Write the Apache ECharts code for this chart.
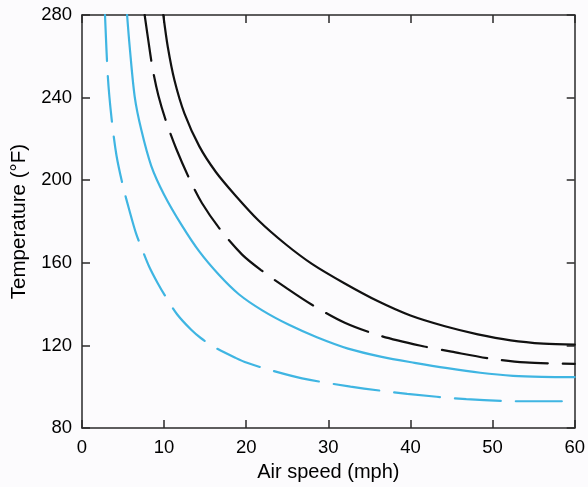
<!DOCTYPE html>
<html lang="en">
    <head>
        <meta charset="utf-8">
        <title>Temperature vs air speed</title>
        <script src="https://cdn.jsdelivr.net/npm/echarts@6/dist/echarts.min.js"></script>
        <style>
            html, body { margin: 0; padding: 0; background: #fcfbfd; }
            #chart { width: 588px; height: 487px; }
        </style>
    </head>
    <body>
        <div id="chart"></div>
        <script>
            // 曲线数据 [风速 mph, 温度 °F]
            var blackSolid = [[9.9,280],[10.45,264.5],[11.26,248.4],[12.47,232.4],[14.29,216.4],[16.3,204],[18.6,193],[21.5,180.5],[24.8,169],[28,159.5],[32,150],[36,141.5],[40,134.5],[44.2,129.3],[48.2,125.4],[52.2,122.5],[56.2,120.9],[60,120.4]];
            var blackDashed = [[7.63,280],[8.1,267],[8.6,254],[9.3,241],[10.2,229],[11.5,215],[13.1,200.5],[14.6,189],[16.9,175.8],[19.5,164],[21.8,156.5],[25,147.5],[28,139.7],[32,131],[36.5,124.5],[41.7,119.5],[45,117],[49.8,113.6],[54,111.8],[60,111.1]];
            var blueSolid = [[5.49,280],[5.81,264.5],[6.42,240.4],[7.22,224.4],[8.43,207],[10,193],[12.1,178.5],[14.3,165.4],[16.7,154.1],[19.1,144.8],[21.95,137],[25.2,130],[28.6,124],[32.4,118.5],[36.5,114.5],[40.5,111.6],[44.5,109],[48.5,106.8],[52.5,105.3],[56,104.8],[60,104.7]];
            var blueDashed = [[2.8,280],[3.15,250],[3.6,230],[4.2,212],[5.0,197],[5.8,185],[6.6,174],[7.2,167.8],[8.2,158],[9.24,150],[10.05,144.5],[11.6,135],[13.3,127.6],[14.5,123.5],[16.3,118.8],[18.7,114],[20.1,111.6],[23,108],[26.8,104.1],[32.7,100.1],[39.6,96.6],[46.8,94],[53,93],[60,93]];

            var xTicks = [0, 60, 10];   // min, max, interval
            var yTicks = [80, 280, 40];

            var font = 'Liberation Sans, Arial, sans-serif';
            var frame = '#2a2a2a';
            var blue = '#3fb5e2';
            var dash = [46, 15];

            function frameAxis(pos, showLabel, t) {
                return {
                    type: 'value', position: pos,
                    min: t[0], max: t[1], interval: t[2],
                    axisLine: { show: true, onZero: false, lineStyle: { color: frame, width: 1.5 } },
                    axisTick: { show: true, inside: true, length: 8, lineStyle: { color: frame, width: 1.5 } },
                    axisLabel: { show: showLabel, margin: 10, color: '#000', fontSize: 18.5, fontFamily: font },
                    splitLine: { show: false }
                };
            }

            var xMain = frameAxis('bottom', true, xTicks);
            xMain.name = 'Air speed (mph)';
            xMain.nameLocation = 'middle';
            xMain.nameGap = 32;
            xMain.nameTextStyle = { color: '#000', fontSize: 20, fontFamily: font };
            var yMain = frameAxis('left', true, yTicks);
            yMain.name = 'Temperature (°F)';
            yMain.nameLocation = 'middle';
            yMain.nameGap = 52;
            yMain.nameTextStyle = { color: '#000', fontSize: 20.5, fontFamily: font };

            function curve(data, color, type) {
                return {
                    type: 'line', data: data, smooth: 0.3, showSymbol: false,
                    xAxisIndex: 0, yAxisIndex: 0, clip: true,
                    lineStyle: { color: color, width: 2.2, type: type, cap: 'round' }
                };
            }

            var myChart = echarts.init(document.getElementById('chart'));
            var option = {
                backgroundColor: '#fcfbfd',
                animation: false,
                grid: { left: 82, right: 10, top: 15, bottom: 56 },
                xAxis: [xMain, frameAxis('top', false, xTicks)],
                yAxis: [yMain, frameAxis('right', false, yTicks)],
                series: [
                    curve(blackSolid, '#111', 'solid'),
                    curve(blackDashed, '#111', dash),
                    curve(blueSolid, blue, 'solid'),
                    curve(blueDashed, blue, dash)
                ]
            };
            myChart.setOption(option);
        </script>
    </body>
</html>
